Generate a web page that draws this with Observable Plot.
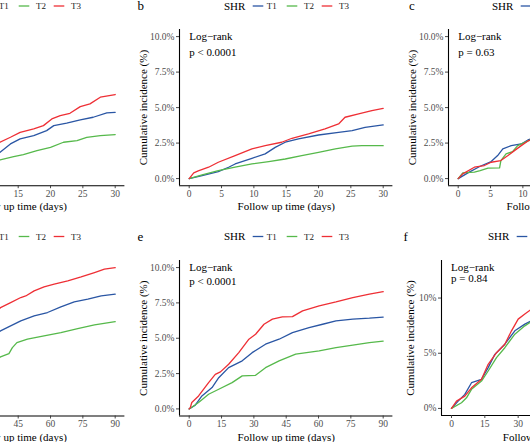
<!DOCTYPE html>
<html><head><meta charset="utf-8">
<script src="https://cdn.jsdelivr.net/npm/d3@7"></script>
<script src="https://cdn.jsdelivr.net/npm/@observablehq/plot@0.6"></script>
<style>
html,body{margin:0;padding:0;background:#fff;}
#root{position:relative;width:530px;height:442px;overflow:hidden;font-family:"Liberation Serif","Times New Roman",serif;}
#root svg{position:absolute;}
</style></head><body><div id="root"></div>
<script>
// ---- categories / colours / ticks ----
const groups = ["T1", "T2", "T3"];
const colors = ["#2A56A4", "#56B94B", "#EE2F35"];
const ticks30 = [0, 5, 10, 15, 20, 25, 30];
const ticks90 = [0, 15, 30, 45, 60, 75, 90];
const pctTicks = [0, 2.5, 5, 7.5, 10];
const pctTicksF = [0, 5, 10];
const pValues = {b: "p < 0.0001", c: "p = 0.63", e: "p < 0.0001", f: "p = 0.84"};

// ---- series: [day, cumulative incidence %] ----
const a_T1 = [[0,0],[12.2,1.85],[13.8,2.44],[15.3,2.8],[17.4,3.03],[19.4,3.38],[20.5,3.73],[22.5,3.9],[24.6,4.13],[26.6,4.32],[28.7,4.63],[30,4.67]];
const a_T2 = [[0,0],[12.2,1.31],[14.3,1.55],[15.8,1.69],[17.9,1.97],[20,2.2],[22,2.56],[24.1,2.68],[25.6,2.91],[27.7,3.03],[30,3.1]];
const a_T3 = [[0,0],[12.2,2.56],[13.8,2.91],[15.3,3.26],[17.4,3.5],[18.9,3.73],[20.2,4.2],[21.5,4.44],[23,4.6],[24.6,5.07],[26.1,5.26],[27.7,5.73],[30,5.92]];

const b_T1 = [[0,0],[2,0.21],[4.5,0.49],[6.1,0.8],[7.1,1.03],[9.7,1.43],[11.75,1.74],[13.3,2.2],[14.85,2.56],[16.9,2.8],[20,3.07],[23.1,3.26],[25.2,3.38],[27.2,3.61],[30,3.78]];
const b_T2 = [[0,0],[2,0.26],[4.5,0.56],[7.1,0.8],[9.7,1.03],[12.3,1.2],[14.85,1.38],[17.4,1.62],[20,1.85],[22.6,2.09],[25.2,2.28],[26.7,2.32],[30,2.32]];
const b_T3 = [[0,0],[0.15,0.09],[0.7,0.4],[1.4,0.54],[3,0.8],[4.5,1.15],[7.1,1.62],[9.7,2.09],[11.75,2.32],[14.3,2.56],[15.9,2.84],[18.45,3.15],[21,3.5],[23.1,3.85],[24.1,4.32],[26.2,4.55],[28.25,4.79],[30,4.95]];

const c_T1 = [[0,0],[1.5,0.4],[3.4,0.87],[5.1,1.2],[6.1,1.62],[6.9,2.09],[8.2,2.32],[9.75,2.44],[10.9,2.75],[12,2.85]];
const c_T2 = [[0,0],[0.7,0.4],[2.5,0.45],[3.4,0.56],[4.6,0.73],[6.4,0.75],[6.6,1.27],[7.4,1.74],[8.4,1.9],[9.2,2.32],[10.9,2.68],[12,2.8]];
const c_T3 = [[0,0],[0.7,0.33],[2.5,0.8],[4.05,0.92],[5.1,1.15],[6.6,1.27],[7.7,1.62],[8.7,1.97],[9.75,2.32],[10.9,2.68],[12,2.85]];

const d_T1 = [[0,0],[36.8,5.52],[41.5,5.87],[46.2,6.23],[52.4,6.58],[58.6,6.82],[64.8,7.22],[71,7.57],[77.3,7.76],[83.5,8.0],[90,8.12]];
const d_T2 = [[0,0],[36.8,3.68],[40.7,3.91],[42.3,4.34],[44.4,4.69],[49.3,4.93],[57,5.17],[64.8,5.4],[72.6,5.68],[80.4,5.94],[90,6.18]];
const d_T3 = [[0,0],[36.8,7.17],[41.5,7.52],[46.2,7.88],[48.5,7.99],[52.4,8.35],[57,8.63],[61.7,8.82],[68,9.06],[74.2,9.34],[80.4,9.65],[85,9.89],[90,10.0]];

const e_T1 = [[0,0],[2.8,0.26],[5.9,0.92],[10.6,1.51],[13.7,2.21],[18.3,2.92],[24.6,3.4],[29.2,3.98],[35.4,4.58],[41.7,4.93],[47.9,5.4],[55.6,5.75],[61.9,5.99],[68.1,6.23],[75.9,6.35],[83.6,6.42],[90,6.5]];
const e_T2 = [[0,0],[4.35,0.45],[9,1.04],[13.7,1.39],[19.9,1.86],[24.6,2.34],[30.8,2.38],[35.4,2.92],[41.7,3.4],[49.4,3.87],[60.3,4.1],[68.1,4.34],[75.9,4.51],[83.6,4.69],[90,4.8]];
const e_T3 = [[0,0],[0.5,0.09],[1.2,0.45],[4.35,0.92],[9,1.86],[12.1,2.45],[14.5,2.62],[18.3,3.16],[23,3.98],[27.7,4.93],[30.8,5.28],[34.7,5.99],[38.6,6.35],[43.2,6.51],[47.9,6.53],[52.6,6.94],[60.3,7.29],[68.1,7.57],[75.9,7.88],[83.6,8.12],[90,8.3]];

const f_T1 = [[0,0],[3,0.66],[6,1.27],[9,2.33],[13.5,2.64],[16.5,3.7],[19.5,4.9],[24,5.82],[28.5,7.03],[33,7.64],[36,7.94],[40,8.3]];
const f_T2 = [[0,0],[4.5,0.51],[6.75,0.96],[9,1.73],[13.5,2.48],[16.5,3.39],[20.25,4.6],[24,5.5],[28.5,6.73],[33,7.48],[36,7.87],[40,8.2]];
const f_T3 = [[0,0],[2.25,0.66],[6,1.12],[9,1.87],[13.5,2.64],[16.5,4.0],[20.25,5.05],[24,5.82],[27,7.03],[30,8.09],[33,8.55],[36,9.0],[40,9.4]];

// ---- layout ----
const root = document.getElementById("root");
const FONT = "'Liberation Serif','Times New Roman',serif";
const ML = 60, MR = 10, MT = 10, MB = 35;
const fmt1 = d => d.toFixed(1) + "%";
const fmt0 = d => d + "%";

const panels = [
  {id:"a", series:[a_T1,a_T2,a_T3], left:-88.7, top:28.9, w:213.4, h:156.2, xd:[-1.5,31.5], yd:[-0.5,10.5], xt:ticks30, yt:pctTicks, yf:fmt1, ylab:-36.3, xlab:21, txt:[9.7,7.1,22.8]},
  {id:"b", series:[b_T1,b_T2,b_T3], left:179.3, top:28.9, w:213.4, h:156.2, xd:[-1.5,31.5], yd:[-0.5,10.5], xt:ticks30, yt:pctTicks, yf:fmt1, ylab:-36.3, xlab:21, txt:[9.7,7.1,22.8]},
  {id:"c", series:[c_T1,c_T2,c_T3], left:447.6, top:28.9, w:213.4, h:156.2, xd:[-1.5,31.5], yd:[-0.5,10.5], xt:ticks30, yt:pctTicks, yf:fmt1, ylab:-36.3, xlab:21, txt:[9.7,7.1,22.8]},
  {id:"d", series:[d_T1,d_T2,d_T3], left:-88.7, top:259.6, w:213.4, h:155.5, xd:[-4.5,94.5], yd:[-0.5,10.5], xt:ticks90, yt:pctTicks, yf:fmt1, ylab:-36.3, xlab:21.6, txt:[9.7,7.1,21.4]},
  {id:"e", series:[e_T1,e_T2,e_T3], left:179.3, top:259.6, w:213.4, h:155.5, xd:[-4.5,94.5], yd:[-0.5,10.5], xt:ticks90, yt:pctTicks, yf:fmt1, ylab:-36.3, xlab:21.6, txt:[9.7,7.1,21.4]},
  {id:"f", series:[f_T1,f_T2,f_T3], left:440.5, top:260, w:220, h:155, xd:[-4.5,94.5], yd:[-0.64,13.4], xt:ticks90, yt:pctTicksF, yf:fmt0, ylab:-31.2, xlab:21.7, txt:[9.5,6.7,18.3]}
];

for (const p of panels) {
  const data = p.series.flatMap((s, i) => s.map(([day, pct]) => ({day, pct, g: groups[i]})));
  const marks = [
    Plot.ruleX([p.xd[0]], {stroke: "#000", strokeWidth: 1.1}),
    Plot.ruleY([p.yd[0]], {stroke: "#000", strokeWidth: 1.1}),
    Plot.axisX({ticks: p.xt, tickSize: 3, tickPadding: 1.5, stroke: "#333", strokeWidth: 0.9, fill: "#4d4d4d", fontSize: 9.5, label: null}),
    Plot.axisY({ticks: p.yt, tickSize: 3, tickPadding: 2, tickFormat: p.yf, stroke: "#333", strokeWidth: 0.9, fill: "#4d4d4d", fontSize: 9.5, label: null}),
    Plot.line(data, {x: "day", y: "pct", z: "g", stroke: "g", strokeWidth: 1.3}),
    Plot.text(["Cumulative incidence (%)"], {frameAnchor: "left", rotate: -90, dx: p.ylab, textAnchor: "middle", lineAnchor: "middle", fontSize: 11, fill: "#000"}),
    Plot.text(["Follow up time (days)"], {frameAnchor: "bottom", dy: p.xlab, textAnchor: "middle", lineAnchor: "middle", fontSize: 11, fill: "#000"})
  ];
  if (pValues[p.id]) {
    marks.push(
      Plot.text(["Log\u2212rank"], {frameAnchor: "top-left", dx: p.txt[0], dy: p.txt[1], textAnchor: "start", lineAnchor: "middle", fontSize: 11, fill: "#000"}),
      Plot.text([pValues[p.id]], {frameAnchor: "top-left", dx: p.txt[0], dy: p.txt[2], textAnchor: "start", lineAnchor: "middle", fontSize: 11, fill: "#000"})
    );
  }
  const svg = Plot.plot({
    width: ML + p.w + MR,
    height: MT + p.h + MB,
    marginLeft: ML, marginRight: MR, marginTop: MT, marginBottom: MB,
    x: {domain: p.xd},
    y: {domain: p.yd},
    color: {domain: groups, range: colors},
    style: {fontFamily: FONT, background: "transparent", overflow: "visible", color: "#000", maxWidth: "none"},
    marks
  });
  svg.style.position = "absolute";
  svg.style.left = (p.left - ML) + "px";
  svg.style.top = (p.top - MT) + "px";
  root.appendChild(svg);
}

// ---- panel tags and SHR legends ----
const ov = d3.select(root).append("svg")
  .attr("width", 530).attr("height", 442)
  .style("position", "absolute").style("left", "0px").style("top", "0px")
  .style("font-family", FONT);

const tags = [["b",137.5,10],["c",409,10],["e",137.5,240.5],["f",403.5,240.5]];
for (const [t, x, y] of tags) ov.append("text").attr("x", x).attr("y", y).attr("font-size", 13).text(t);

function legend(x0, yc) {
  ov.append("text").attr("x", x0).attr("y", yc + 3.8).attr("font-size", 11).text("SHR");
  const offs = [[28.7, 42.7], [62.7, 80], [97.7, 115]];
  groups.forEach((g, i) => {
    ov.append("line").attr("x1", x0 + offs[i][0]).attr("x2", x0 + offs[i][0] + 10.6)
      .attr("y1", yc).attr("y2", yc).attr("stroke", colors[i]).attr("stroke-width", 1.3);
    ov.append("text").attr("x", x0 + offs[i][1]).attr("y", yc + 3.2).attr("font-size", 9).attr("fill", "#222").text(g);
  });
}
legend(-44, 6);
legend(224, 6);
legend(492, 6);
legend(-44, 236.5);
legend(224, 236.5);
legend(488, 236.5);
</script></body></html>
